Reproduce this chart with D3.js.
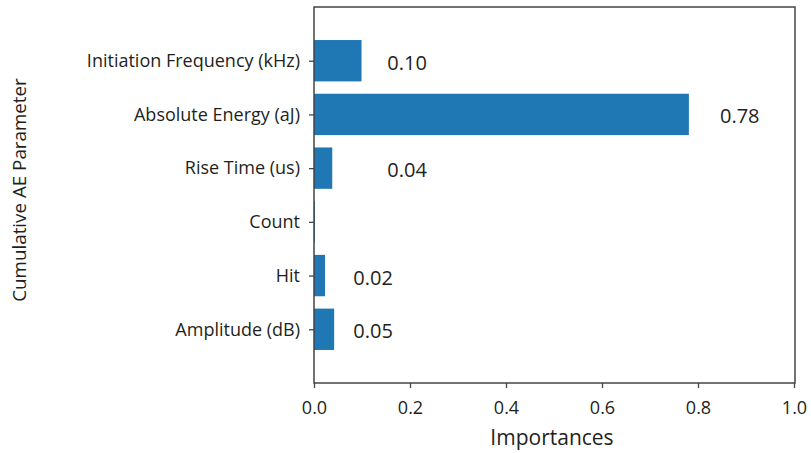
<html>
<head>
  <script src="https://d3js.org/d3.v7.min.js"></script>
  <style>
    body { margin: 0; background: #fff; }
    text { font-family: "Open Sans", sans-serif; fill: #231f20; }
    .frame { fill: none; stroke: #444; stroke-width: 1.5px; }
    .tick line { stroke: #444; stroke-width: 1.3px; }
    .domain { display: none; }
  </style>
</head>
<body>
  <svg id="chart" width="811" height="453"></svg>
  <script>
    // parameters, top to bottom as drawn
    const params = ["Initiation Frequency (kHz)", "Absolute Energy (aJ)", "Rise Time (us)", "Count", "Hit", "Amplitude (dB)"];
    const importances = [0.099, 0.781, 0.038, 0.002, 0.023, 0.042];
    const valueLabels = ["0.10", "0.78", "0.04", "", "0.02", "0.05"];
    // where the printed value sits, in importance units
    const labelAt = [0.194, 0.887, 0.194, 0, 0.123, 0.123];
    const xTicks = [0, 0.2, 0.4, 0.6, 0.8, 1.0];

    const svg = d3.select("#chart");
    const plotL = 314, plotR = 794, plotT = 7, plotB = 383;

    const x = d3.scaleLinear().domain([0, 1]).range([plotL, plotR]);
    // position index: Amplitude at 0, Initiation at 5
    const y = d3.scaleLinear().domain([-1, 6]).range([plotB, plotT]);
    const pos = i => params.length - 1 - i;
    const barH = (y(0) - y(0.77));

    svg.selectAll("rect.bar").data(params).enter()
      .append("rect")
      .attr("class", "bar")
      .attr("x", x(0))
      .attr("y", (d, i) => y(pos(i)) - barH / 2)
      .attr("width", (d, i) => x(importances[i]) - x(0))
      .attr("height", barH)
      .attr("fill", "#1f77b4");

    svg.selectAll("text.val").data(valueLabels).enter()
      .append("text")
      .attr("class", "val")
      .attr("x", (d, i) => x(labelAt[i]))
      .attr("y", (d, i) => y(pos(i)) + 9)
      .attr("text-anchor", "middle")
      .style("font-size", "20px")
      .text(d => d);

    // frame
    svg.append("rect").attr("class", "frame")
      .attr("x", plotL).attr("y", plotT)
      .attr("width", 795 - plotL).attr("height", plotB - plotT);

    const xAxis = d3.axisBottom(x).tickValues(xTicks).tickFormat(d3.format(".1f")).tickSize(5).tickPadding(13);
    svg.append("g").attr("transform", "translate(0," + plotB + ")").call(xAxis)
      .selectAll("text").style("font-size", "18px").attr("fill", "#231f20");

    const yAxis = d3.axisLeft(y).tickValues(d3.range(params.length))
      .tickFormat(d => params[params.length - 1 - d]).tickSize(5).tickPadding(9);
    svg.append("g").attr("transform", "translate(" + plotL + ",0)").call(yAxis)
      .selectAll("text").style("font-size", "18px").attr("fill", "#231f20");

    svg.append("text")
      .attr("x", (plotL + plotR) / 2 - 2)
      .attr("y", 445)
      .attr("text-anchor", "middle")
      .style("font-size", "21px")
      .text("Importances");

    svg.append("text")
      .attr("transform", "translate(26," + 190 + ") rotate(-90)")
      .attr("text-anchor", "middle")
      .style("font-size", "18.8px")
      .text("Cumulative AE Parameter");
  </script>
</body>
</html>
